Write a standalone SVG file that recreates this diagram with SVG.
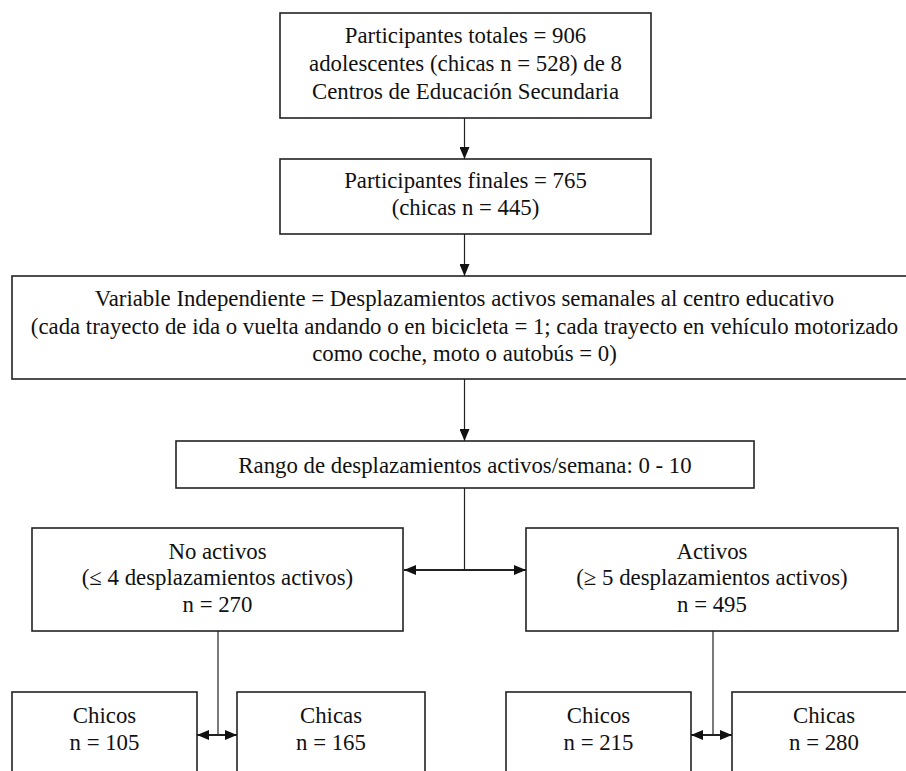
<svg xmlns="http://www.w3.org/2000/svg" width="906" height="771" viewBox="0 0 906 771" font-family="Liberation Serif, Times New Roman, serif">
<defs>
<style>
.box{fill:#fff;stroke:#222;stroke-width:1.6}
.ln{fill:none;stroke:#222;stroke-width:1.2}
.hl{fill:none;stroke:#222;stroke-width:2.2}
.t{font-size:22.8px;fill:#111;text-anchor:middle}
</style>
<marker id="ah" viewBox="0 0 12 10" refX="12" refY="5" markerWidth="12" markerHeight="10" markerUnits="userSpaceOnUse" orient="auto-start-reverse">
<path d="M0,0 L12,5 L0,10 z" fill="#111"/>
</marker>
</defs>
<rect width="906" height="771" fill="#fff"/>
<g id="connectors">
<line class="ln" x1="464.5" y1="118" x2="464.5" y2="159" marker-end="url(#ah)"/>
<line class="ln" x1="464.5" y1="234" x2="464.5" y2="276" marker-end="url(#ah)"/>
<line class="ln" x1="464.5" y1="379" x2="464.5" y2="441" marker-end="url(#ah)"/>
<line class="ln" x1="464.5" y1="488" x2="464.5" y2="570"/>
<line class="hl" x1="404" y1="570" x2="526" y2="570" marker-start="url(#ah)" marker-end="url(#ah)"/>
<line class="ln" x1="218" y1="631" x2="218" y2="735"/>
<line class="hl" x1="197" y1="735" x2="237" y2="735" marker-start="url(#ah)" marker-end="url(#ah)"/>
<line class="ln" x1="713" y1="631" x2="713" y2="735"/>
<line class="hl" x1="691" y1="735" x2="732" y2="735" marker-start="url(#ah)" marker-end="url(#ah)"/>
</g>
<g id="total">
<rect class="box" x="280" y="13" width="371" height="105"/>
<text class="t" x="465.5" y="43">Participantes totales = 906</text>
<text class="t" x="465.5" y="71">adolescentes (chicas n = 528) de 8</text>
<text class="t" x="465.5" y="99">Centros de Educación Secundaria</text>
</g>
<g id="finales">
<rect class="box" x="280" y="159" width="371" height="75"/>
<text class="t" x="465.5" y="188">Participantes finales = 765</text>
<text class="t" x="465.5" y="215">(chicas n = 445)</text>
</g>
<g id="variable">
<rect class="box" x="12" y="276" width="906" height="103"/>
<text class="t" x="464.5" y="306">Variable Independiente = Desplazamientos activos semanales al centro educativo</text>
<text class="t" x="464.5" y="334">(cada trayecto de ida o vuelta andando o en bicicleta = 1; cada trayecto en vehículo motorizado</text>
<text class="t" x="464.5" y="361">como coche, moto o autobús = 0)</text>
</g>
<g id="rango">
<rect class="box" x="176" y="441" width="578" height="47"/>
<text class="t" x="465" y="473">Rango de desplazamientos activos/semana: 0 - 10</text>
</g>
<g id="noactivos">
<rect class="box" x="32" y="528" width="371" height="103"/>
<text class="t" x="217.5" y="559">No activos</text>
<text class="t" x="217.5" y="585">(≤ 4 desplazamientos activos)</text>
<text class="t" x="217.5" y="612">n = 270</text>
</g>
<g id="activos">
<rect class="box" x="526" y="528" width="372" height="103"/>
<text class="t" x="712" y="559">Activos</text>
<text class="t" x="712" y="585">(≥ 5 desplazamientos activos)</text>
<text class="t" x="712" y="612">n = 495</text>
</g>
<g id="chicos1">
<rect class="box" x="12" y="692" width="185" height="110"/>
<text class="t" x="104.5" y="723">Chicos</text>
<text class="t" x="104.5" y="750">n = 105</text>
</g>
<g id="chicas1">
<rect class="box" x="237" y="692" width="188" height="110"/>
<text class="t" x="331" y="723">Chicas</text>
<text class="t" x="331" y="750">n = 165</text>
</g>
<g id="chicos2">
<rect class="box" x="506" y="692" width="185" height="110"/>
<text class="t" x="598.5" y="723">Chicos</text>
<text class="t" x="598.5" y="750">n = 215</text>
</g>
<g id="chicas2">
<rect class="box" x="732" y="692" width="184" height="110"/>
<text class="t" x="824" y="723">Chicas</text>
<text class="t" x="824" y="750">n = 280</text>
</g>
</svg>
